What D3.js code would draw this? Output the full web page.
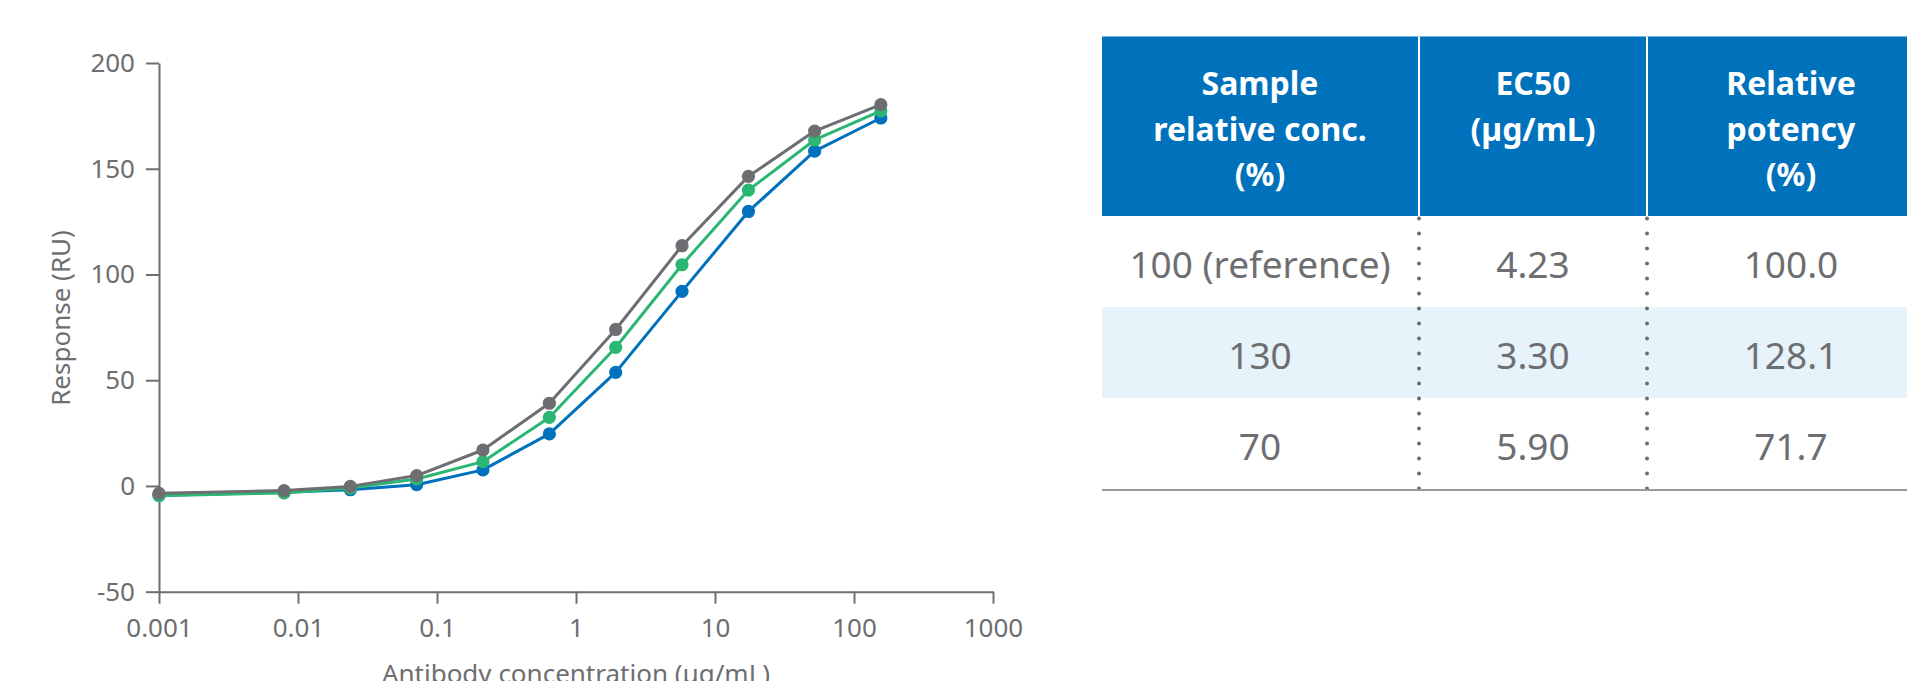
<!DOCTYPE html>
<html>
<head>
<meta charset="utf-8">
<script src="https://cdn.jsdelivr.net/npm/d3@7/dist/d3.min.js"></script>
<style>
  html, body { margin: 0; padding: 0; background: #ffffff; }
  svg { display: block; }
  text { font-family: "Noto Sans", "Open Sans", sans-serif; }
</style>
</head>
<body>
<svg id="chart" width="1907" height="681"></svg>
<script>
// Antibody concentrations (µg/mL), 3-fold dilution series plus a blank plotted at 0.001
const concentrations = [0.001, 0.00794, 0.0238, 0.0714, 0.214, 0.643, 1.93, 5.79, 17.4, 52.1, 156];

// Response (RU) for each sample relative concentration
const response130 = [-3.5, -2.2, -0.2, 4.9, 17.0, 39.1, 74.0, 113.6, 146.4, 167.8, 180.3];
const response100 = [-4.6, -3.3, -1.0, 3.3, 11.5, 32.4, 65.5, 104.6, 139.9, 163.6, 177.4];
const response70  = [-4.4, -3.0, -1.8, 0.6, 7.6, 24.6, 53.7, 92.0, 129.8, 158.3, 174.0];

const xTicks = [0.001, 0.01, 0.1, 1, 10, 100, 1000];
const xTickLabels = ["0.001", "0.01", "0.1", "1", "10", "100", "1000"];
const yTicks = [-50, 0, 50, 100, 150, 200];
const yTickLabels = ["-50", "0", "50", "100", "150", "200"];

// Summary table
const tableHeaders = [["Sample", "relative conc.", "(%)"], ["EC50", "(µg/mL)"], ["Relative", "potency", "(%)"]];
const sampleConc = ["100 (reference)", "130", "70"];
const ec50 = ["4.23", "3.30", "5.90"];
const relPotency = ["100.0", "128.1", "71.7"];

const GREY = "#6d6e71";
const series = [
  { name: "70", values: response70, color: "#0071bc" },
  { name: "100", values: response100, color: "#2bb673" },
  { name: "130", values: response130, color: "#6d6e71" }
];

const svg = d3.select("#chart");

// ---- Dose–response plot ----
const x = d3.scaleLog().domain([0.001, 1000]).range([159, 993]);
const y = d3.scaleLinear().domain([-50, 200]).range([591.7, 63]);

const yAxis = svg.append("g")
  .attr("transform", `translate(${x(0.001)},0)`)
  .call(d3.axisLeft(y).tickValues(yTicks)
    .tickFormat((d, i) => yTickLabels[i])
    .tickSize(13).tickSizeOuter(0).tickPadding(11));

const xAxis = svg.append("g")
  .attr("transform", `translate(0,${y(-50)})`)
  .call(d3.axisBottom(x).tickValues(xTicks)
    .tickFormat((d, i) => xTickLabels[i])
    .tickSize(12).tickSizeOuter(0).tickPadding(15));

[yAxis, xAxis].forEach(g => {
  g.select(".domain").attr("stroke", GREY).attr("stroke-width", 2);
  g.selectAll(".tick line").attr("stroke", GREY).attr("stroke-width", 2);
  g.selectAll(".tick text")
    .attr("fill", GREY)
    .style("font-size", "26px")
    .style("font-family", "'Noto Sans', sans-serif");
});

svg.append("text")
  .attr("transform", `translate(70,318) rotate(-90)`)
  .attr("text-anchor", "middle")
  .attr("fill", GREY)
  .style("font-size", "26px")
  .text("Response (RU)");

svg.append("text")
  .attr("x", (x(0.001) + x(1000)) / 2)
  .attr("y", 683)
  .attr("text-anchor", "middle")
  .attr("fill", GREY)
  .style("font-size", "26px")
  .text("Antibody concentration (µg/mL)");

const line = d3.line()
  .x((d, i) => x(concentrations[i]))
  .y(d => y(d));

const plot = svg.append("g");
series.forEach(s => {
  const g = plot.append("g");
  g.append("path")
    .datum(s.values)
    .attr("d", line)
    .attr("fill", "none")
    .attr("stroke", s.color)
    .attr("stroke-width", 3)
    .attr("stroke-linejoin", "round");
  g.selectAll("circle")
    .data(s.values)
    .join("circle")
    .attr("cx", (d, i) => x(concentrations[i]))
    .attr("cy", d => y(d))
    .attr("r", 6.6)
    .attr("fill", s.color);
});

// ---- Results table ----
const colEdges = [1102, 1419, 1647, 1935];
const headerTop = 36.5, headerBottom = 216, rowH = 91;
const tbl = svg.append("g");

tbl.append("rect")
  .attr("x", colEdges[0]).attr("y", headerTop)
  .attr("width", colEdges[3] - colEdges[0]).attr("height", headerBottom - headerTop)
  .attr("fill", "#0071bb");

// shaded middle row
tbl.append("rect")
  .attr("x", colEdges[0]).attr("y", headerBottom + rowH)
  .attr("width", colEdges[3] - colEdges[0]).attr("height", rowH)
  .attr("fill", "#e6f3fa");

// header separators and dotted column rules
[colEdges[1], colEdges[2]].forEach(cx => {
  tbl.append("line")
    .attr("x1", cx).attr("x2", cx)
    .attr("y1", headerTop).attr("y2", headerBottom)
    .attr("stroke", "#ffffff").attr("stroke-width", 2);
  tbl.append("line")
    .attr("x1", cx).attr("x2", cx)
    .attr("y1", headerBottom + 2.5).attr("y2", headerBottom + rowH * 3)
    .attr("stroke", GREY).attr("stroke-width", 4)
    .attr("stroke-linecap", "round")
    .attr("stroke-dasharray", "0,15");
});

// bottom rule
tbl.append("line")
  .attr("x1", colEdges[0]).attr("x2", 1907)
  .attr("y1", headerBottom + rowH * 3 + 1).attr("y2", headerBottom + rowH * 3 + 1)
  .attr("stroke", "#9a9a9a").attr("stroke-width", 2);

const colCenters = [1260, 1533, 1791];

tableHeaders.forEach((lines, c) => {
  const t = tbl.append("text")
    .attr("text-anchor", "middle")
    .attr("fill", "#ffffff")
    .style("font-size", "32px")
    .style("font-weight", "bold");
  lines.forEach((ln, k) => {
    t.append("tspan")
      .attr("x", colCenters[c])
      .attr("y", 95 + k * 45.5)
      .text(ln);
  });
});

const columns = [sampleConc, ec50, relPotency];
columns.forEach((col, c) => {
  tbl.selectAll(null)
    .data(col)
    .join("text")
    .attr("x", colCenters[c])
    .attr("y", (d, r) => headerBottom + rowH * r + 61.5)
    .attr("text-anchor", "middle")
    .attr("fill", GREY)
    .style("font-size", "37px")
    .text(d => d);
});
</script>
</body>
</html>
